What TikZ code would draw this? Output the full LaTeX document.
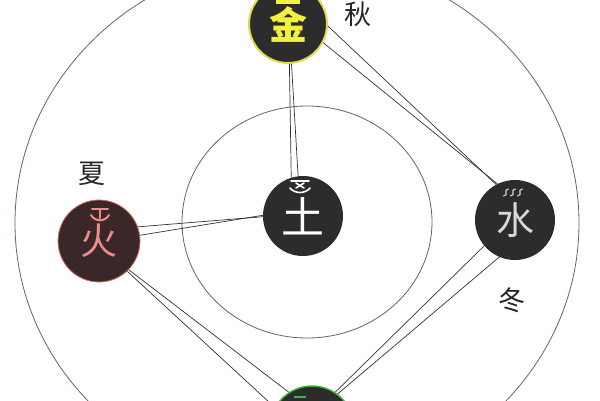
\documentclass[tikz,border=0pt]{standalone}
\usepackage{fontspec}
\setmainfont{Noto Sans CJK SC}
\definecolor{ringc}{HTML}{7A5C5C}
\definecolor{ballc}{HTML}{2C2C2C}
\definecolor{huoc}{HTML}{3A2828}
\definecolor{huoedge}{HTML}{D86A6A}
\definecolor{huotext}{HTML}{EC8C8C}
\definecolor{jinedge}{HTML}{DCDC50}
\definecolor{jintext}{HTML}{F2F23C}
\definecolor{muedge}{HTML}{3CB83C}
\definecolor{shuitext}{HTML}{D8D8D8}
\definecolor{linec}{HTML}{333333}
\tikzset{
  ball/.style={circle, fill=ballc, inner sep=0pt, minimum size=80pt},
  ring/.style={draw=ringc, line width=0.8pt},
  conn/.style={draw=linec, line width=0.7pt},
  season/.style={inner sep=0pt, text=black!85, font=\fontsize{27}{27}\selectfont},
}
\begin{document}
\begin{tikzpicture}[x=1pt,y=-1pt]
\useasboundingbox (0,0) rectangle (600,400);
\fill[white] (0,0) rectangle (600,400);
% rings
\draw[ring] (297,223) ellipse [x radius=282pt, y radius=265pt];
\draw[ring] (307,222) ellipse [x radius=125pt, y radius=116pt];
% element nodes
\node[ball, draw=jinedge, line width=2pt, minimum size=78pt, text=jintext,
      font=\fontsize{38}{38}\selectfont\bfseries] (jin) at (288,24) {\raisebox{-6pt}{金}};
\node[ball, text=white, font=\fontsize{43}{43}\selectfont] (tu) at (303,216) {\raisebox{-6pt}{土}};
\node[ball, fill=huoc, draw=huoedge, line width=0.8pt, minimum size=82pt, text=huotext,
      font=\fontsize{37}{37}\selectfont] (huo) at (99,241) {\raisebox{-4pt}{火}};
\node[ball, text=shuitext, font=\fontsize{38}{38}\selectfont] (shui) at (515,220) {\raisebox{-1pt}{水}};
\node[ball, draw=muedge, line width=1.4pt, minimum size=84pt] (mu) at (312,428) {};
% small marks on the nodes
\fill[jintext] (276,0) rectangle (300,4);
\begin{scope}[draw=huotext, line width=2pt, line cap=round]
  \draw (92,209) -- (108,209);
  \draw (100,209) -- (100,218);
  \draw (91,215) .. controls (95,222) and (105,222) .. (109,215);
\end{scope}
\begin{scope}[draw=white, line width=1.6pt, line cap=round]
  \draw (291,181) -- (309,181);
  \draw (296,183) -- (304,188);
  \draw (304,183) -- (296,188);
  \draw (290,188) .. controls (295,194) and (305,194) .. (310,188);
\end{scope}
\begin{scope}[draw=shuitext, line width=1.1pt, line cap=round]
  \foreach \sx in {506,513,520}{
    \draw (\sx+2.5,189) .. controls (\sx-3.5,189.5) and (\sx+3.5,195) .. (\sx-2.5,196);
  }
\end{scope}
\draw[muedge, line width=2pt] (294,397) -- (306,397);
% connectors (pairs of thin lines)
\draw[conn] (jin.-88) -- (tu.107);
\draw[conn] (jin.-85) -- (tu.97);
\draw[conn] (jin.-3) -- (shui.118);
\draw[conn] (jin.-28) -- (shui.116);
\draw[conn] (huo.20) -- (tu.181);
\draw[conn] (huo.8) -- (tu.179);
\draw[conn] (huo.-44) -- (mu.123);
\draw[conn] (huo.-47) -- (mu.151);
\draw[conn] (shui.220) -- (mu.57);
\draw[conn] (shui.247) -- (mu.53);
% season labels
\node[season] (qiu) at (358,14) {秋};
\node[season] (xia) at (92,174) {夏};
\node[season] (dong) at (512,300) {冬};
\end{tikzpicture}
\end{document}
